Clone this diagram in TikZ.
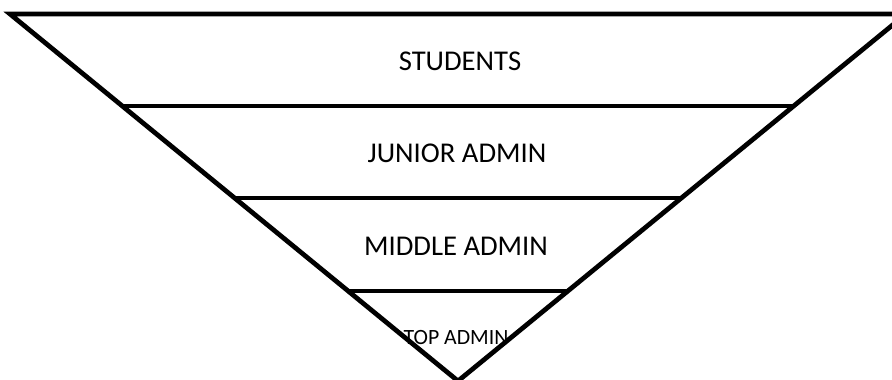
\documentclass[tikz,border=0pt]{standalone}
\usepackage{fontspec}
\setmainfont{Carlito}
\usetikzlibrary{positioning}
\tikzset{
  tier line/.style={line width=2.7pt, black, line join=miter, line cap=butt},
  tier label/.style={font=\fontsize{16.3}{18}\selectfont, inner sep=0pt, anchor=center},
  tier small/.style={tier label, font=\fontsize{12.4}{14}\selectfont},
}

\begin{document}
\begin{tikzpicture}[x=0.02cm, y=-0.02cm]
  \useasboundingbox (0,0) rectangle (892,379);
  \clip (0,0) rectangle (892,379);
  % outline of the inverted triangle
  \coordinate (tl) at (10,14);
  \coordinate (tr) at (906,14);
  \coordinate (apex) at (458,381);
  \draw[tier line] (tr) -- (tl) -- (apex) -- cycle;
  % cuts between the tiers
  \foreach \yy/\xl/\xr in {106/121/793, 198/233/683, 291/347/569}
     \draw[tier line] (\xl,\yy) -- (\xr,\yy);
  % tier names
  \node[tier label] (students) at (460,61) {STUDENTS};
  \node[tier label] (junior) at (457,153) {JUNIOR ADMIN};
  \node[tier label] (middle) at (456,246) {MIDDLE ADMIN};
  \node[tier small] (top) at (456,337) {TOP ADMIN};
\end{tikzpicture}
\end{document}
